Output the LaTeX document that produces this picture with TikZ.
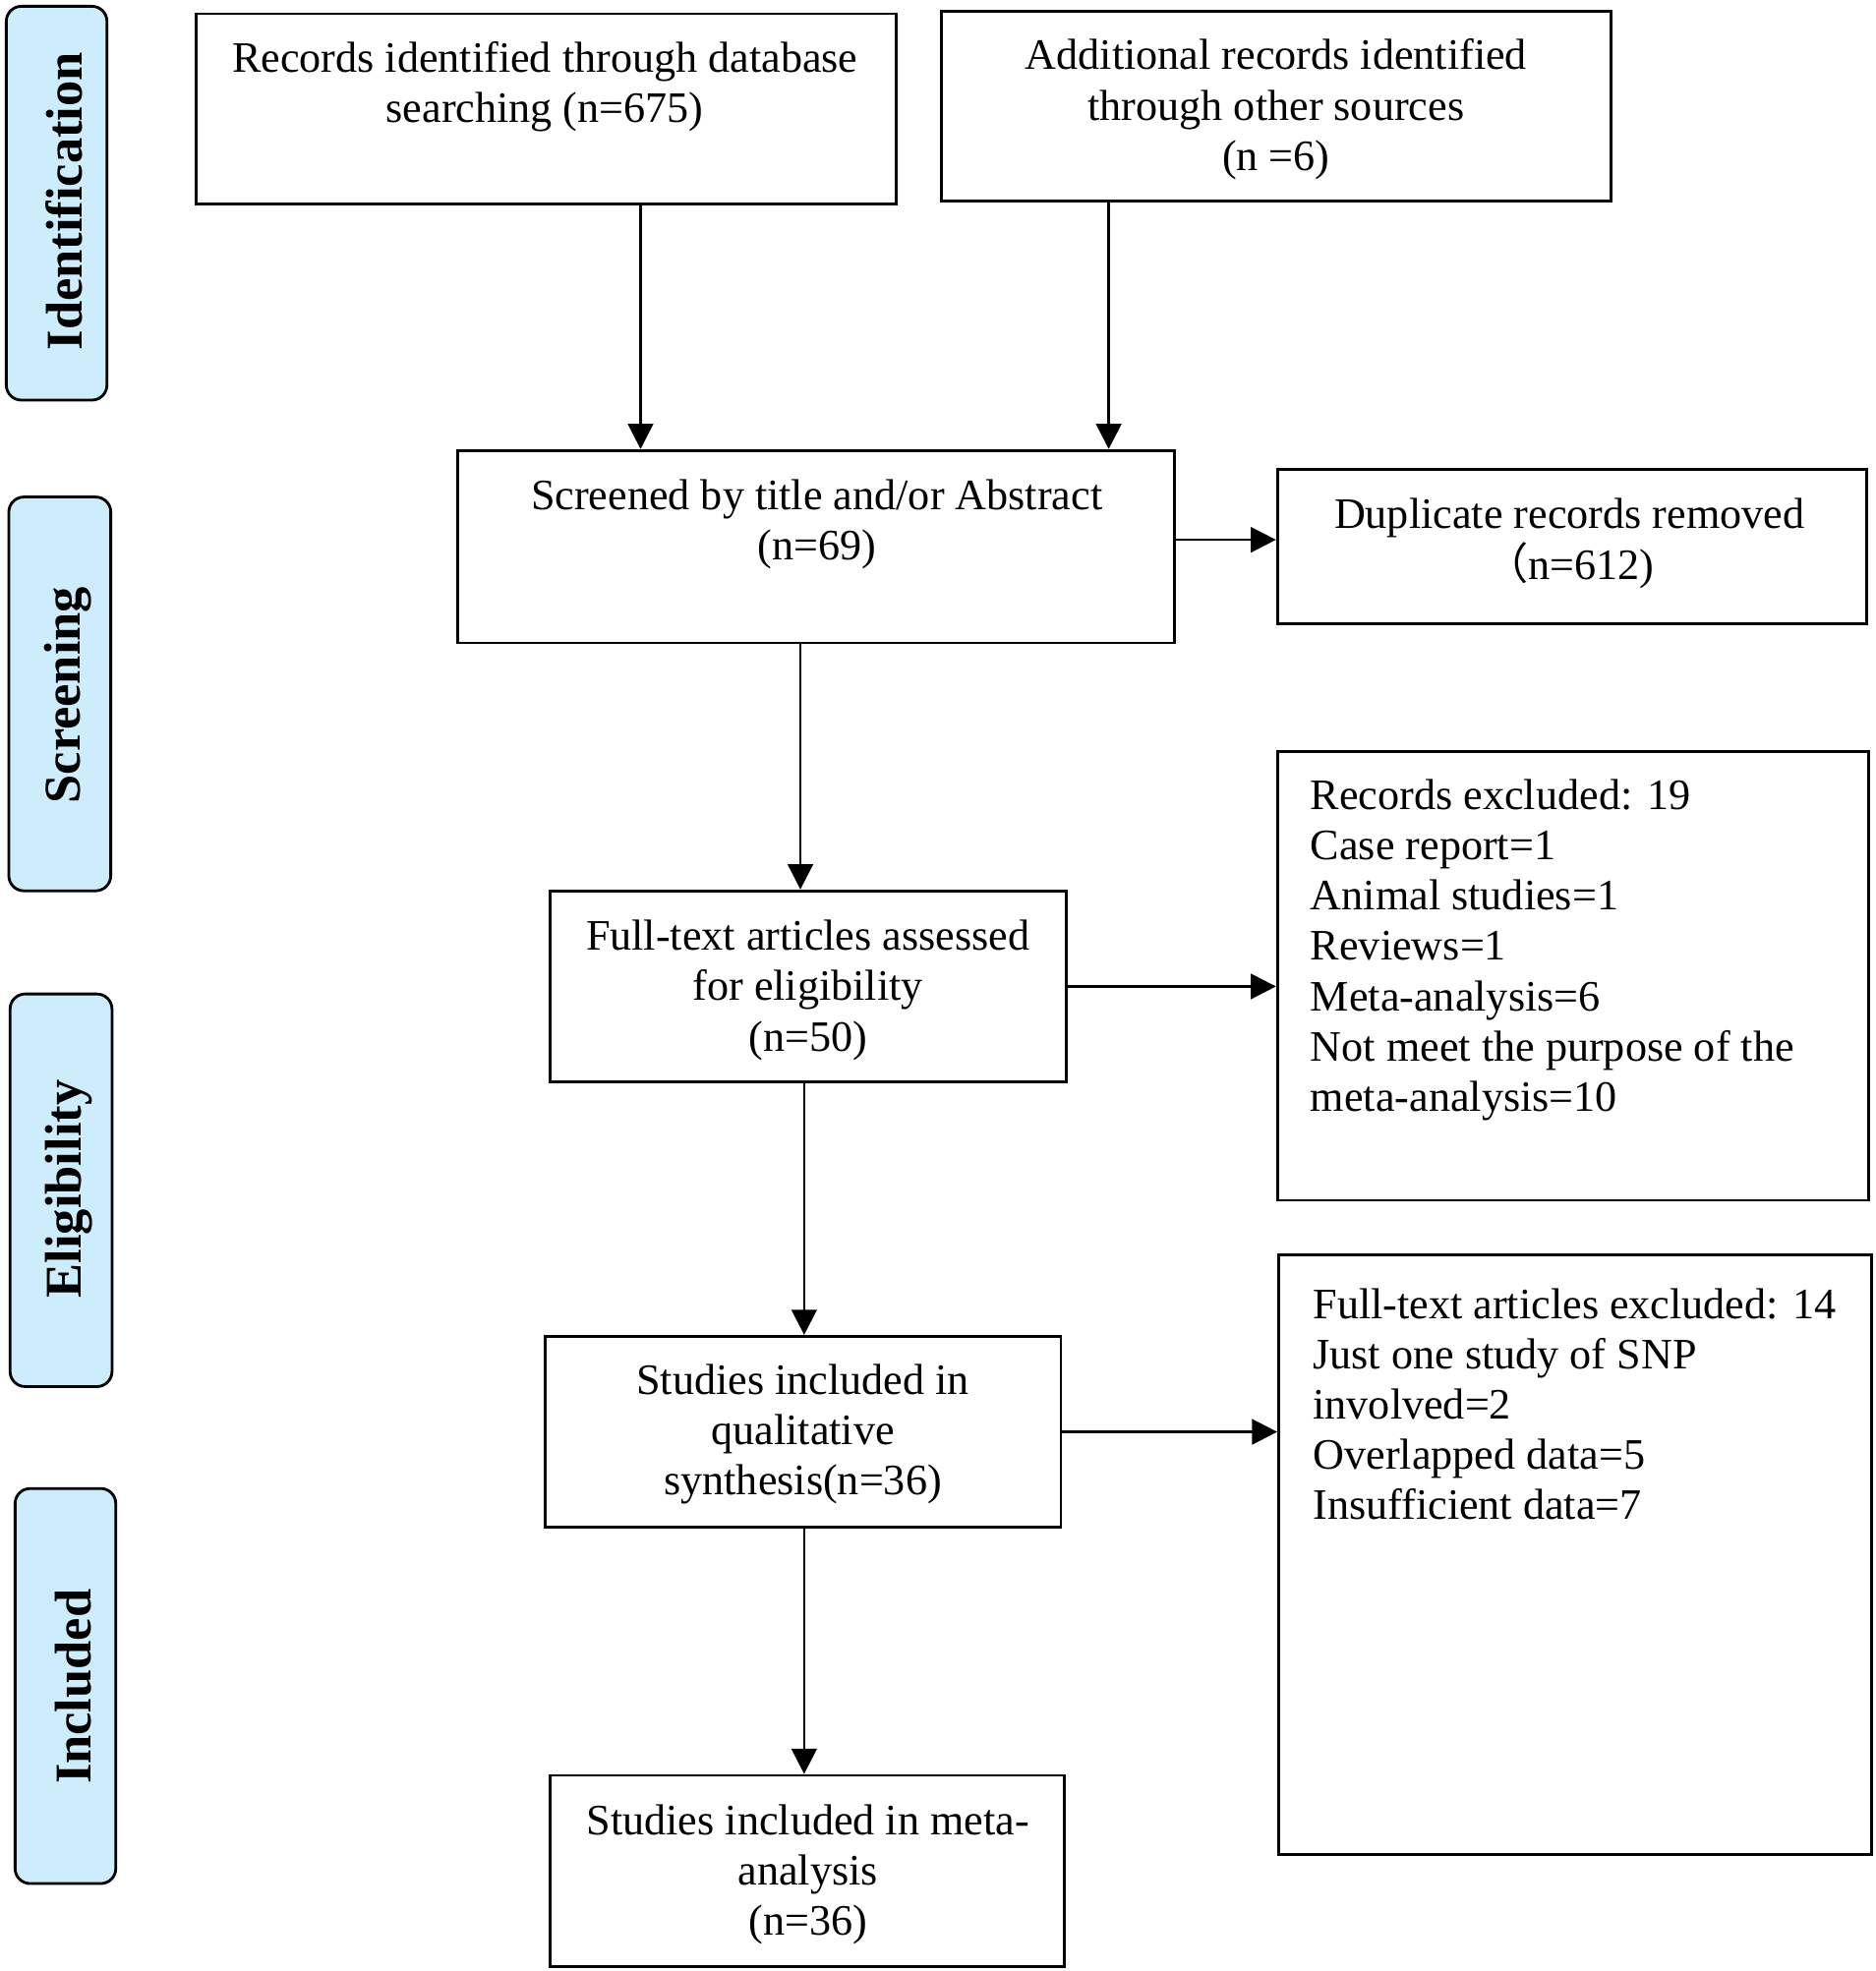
\documentclass[tikz,border=0pt]{standalone}
\usepackage{fontspec}
\setmainfont{Liberation Serif}
\newfontfamily\cjk{Noto Sans CJK SC}
\usetikzlibrary{arrows.meta}
\definecolor{lblue}{RGB}{205,236,252}
\begin{document}
\begin{tikzpicture}[x=0.5pt,y=-0.5pt,
 box/.style={draw,line width=1.1pt,inner sep=0,rectangle},
 phase/.style={draw,line width=1.1pt,fill=lblue,rounded corners=6pt,inner sep=0,rectangle},
 txt/.style={inner sep=0,font=\fontsize{17.25pt}{20pt}\selectfont,align=center},
 ltxt/.style={inner sep=0,font=\fontsize{17.25pt}{20pt}\selectfont,align=left,anchor=west},
 ptxt/.style={inner sep=0,font=\fontsize{20.5pt}{24pt}\selectfont\bfseries,rotate=90},
 arr/.style={line width=1pt,-{Triangle[length=10pt,width=10pt]}}]
\useasboundingbox (0,0) rectangle (1490,1566.5);

% phase labels
\node[phase,minimum width=40pt,minimum height=156.5pt] (P1) at (45,161.5) {};
\node[ptxt] (P1t) at (51,160) {Identification};
\node[phase,minimum width=40.5pt,minimum height=156.5pt] (P2) at (47.5,551.5) {};
\node[ptxt] (P2t) at (54,552.5) {Screening};
\node[phase,minimum width=40.5pt,minimum height=156pt] (P3) at (48.5,946) {};
\node[ptxt] (P3t) at (55,945) {Eligibility};
\node[phase,minimum width=40pt,minimum height=157pt] (P4) at (52,1340) {};
\node[ptxt] (P4t) at (58,1340.5) {Included};

% boxes
\node[box,minimum width=278pt,minimum height=75.5pt] (A) at (434,86.5) {};
\node[box,minimum width=266pt,minimum height=75.5pt] (B) at (1014,84.5) {};
\node[box,minimum width=284.5pt,minimum height=76.5pt] (C) at (648.5,434.5) {};
\node[box,minimum width=234pt,minimum height=61.5pt] (D) at (1249,434.5) {};
\node[box,minimum width=205pt,minimum height=76pt] (E) at (642,784) {};
\node[box,minimum width=235pt,minimum height=178.5pt] (F) at (1250,775.5) {};
\node[box,minimum width=205pt,minimum height=76pt] (G) at (638,1138) {};
\node[box,minimum width=235.5pt,minimum height=238.5pt] (H) at (1251.5,1235.5) {};
\node[box,minimum width=204.5pt,minimum height=76pt] (I) at (641.5,1487) {};

% texts
\node[txt] (At) at (433,69) {Records identified through database\\searching (n=675)};
\node[txt] (Bt) at (1014,87) {Additional records identified\\through other sources\\(n =6)};
\node[txt] (Ct) at (649,417) {Screened by title and/or Abstract\\(n=69)};
\node[txt] (Dt) at (1247,432) {Duplicate records removed\\{\cjk （}n=612)};
\node[txt] (Et) at (642,787) {Full-text articles assessed\\for eligibility\\(n=50)};
\node[ltxt] (Ft) at (1041,755) {Records excluded: 19\\Case report=1\\Animal studies=1\\Reviews=1\\Meta-analysis=6\\Not meet the purpose of the\\meta-analysis=10};
\node[txt] (Gt) at (638,1140) {Studies included in\\qualitative\\synthesis(n=36)};
\node[ltxt] (Ht) at (1043,1116) {Full-text articles excluded: 14\\Just one study of SNP\\involved=2\\Overlapped data=5\\Insufficient data=7};
\node[txt] (It) at (642,1490) {Studies included in meta-\\analysis\\(n=36)};

% arrows
\draw[arr] (509,0 |- A.south) -- (509,0 |- C.north);
\draw[arr] (881,0 |- B.south) -- (881,0 |- C.north);
\draw[arr] (C.east |- 0,429) -- (D.west |- 0,429);
\draw[arr] (636,0 |- C.south) -- (636,0 |- E.north);
\draw[arr] (E.east) -- (E.east -| F.west);
\draw[arr] (639,0 |- E.south) -- (639,0 |- G.north);
\draw[arr] (G.east) -- (G.east -| H.west);
\draw[arr] (639,0 |- G.south) -- (639,0 |- I.north);
\end{tikzpicture}
\end{document}
